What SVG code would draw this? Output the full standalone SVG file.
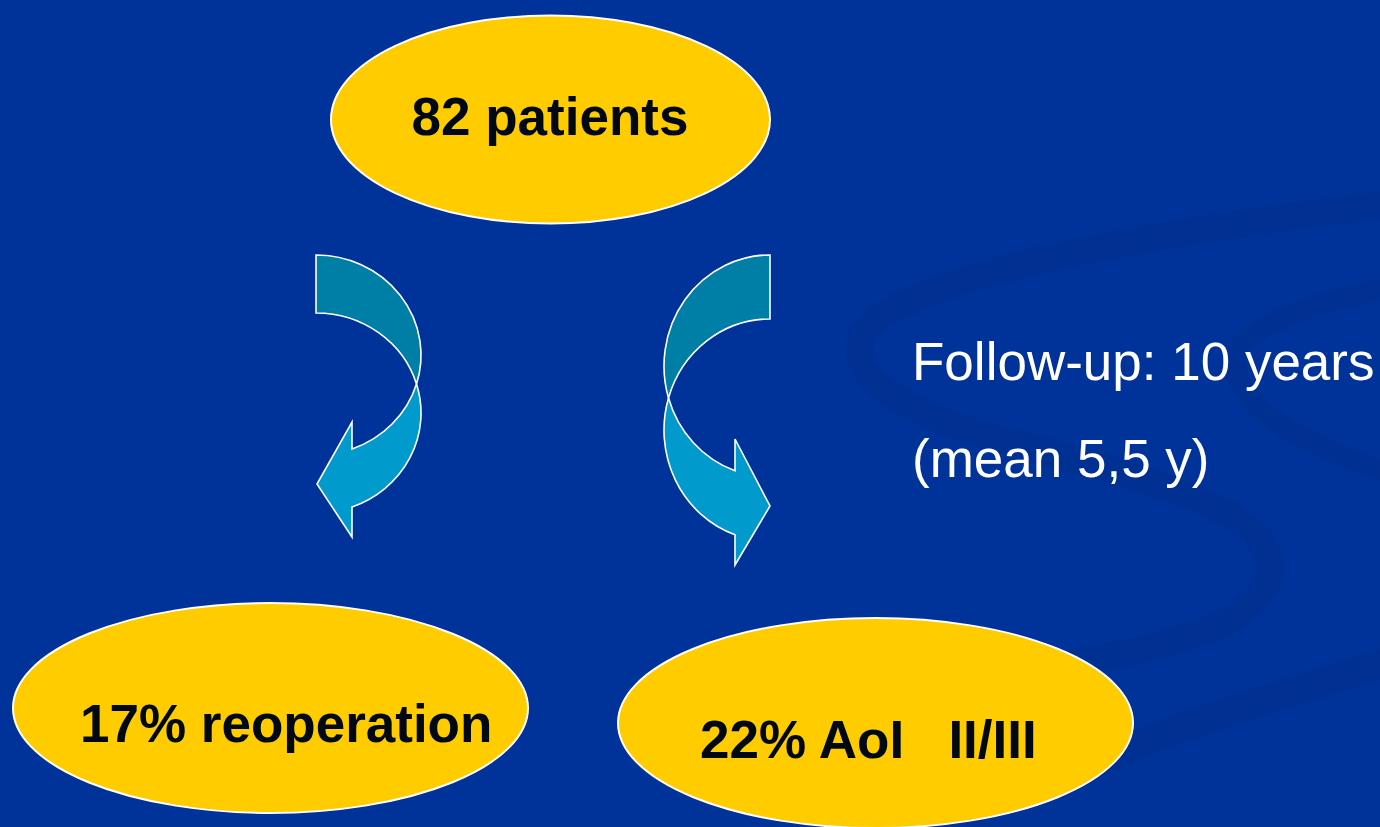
<svg xmlns="http://www.w3.org/2000/svg" width="1380" height="827" viewBox="0 0 1380 827">
  <style>
    .node ellipse { fill: #FFCC00; stroke: #FFFFFF; stroke-width: 2; }
    .lbl { font-family: "Liberation Sans", Arial, sans-serif; font-weight: bold; font-size: 53px; fill: #000814; }
    .note { font-family: "Liberation Sans", Arial, sans-serif; font-size: 53px; fill: #FFFFFF; }
    .back { fill: #007FA6; stroke: #FFFFFF; stroke-width: 1.6; stroke-linejoin: miter; }
    .front { fill: #009ACD; stroke: #FFFFFF; stroke-width: 1.6; stroke-linejoin: miter; }
    .swirl { fill: none; stroke: #003192; stroke-linecap: round; }
  </style>
  <rect x="0" y="0" width="1380" height="827" fill="#003399"/>
  <g id="background-swirl">
    <path class="swirl" stroke-width="28" d="M1380,205 C1180,230 950,265 875,320 C830,360 880,410 1020,445 C1180,485 1280,520 1270,575 C1255,630 1150,650 1060,665"/>
    <path class="swirl" stroke-width="22" d="M1380,290 C1300,305 1240,330 1235,360 C1232,400 1290,440 1380,470"/>
    <path class="swirl" stroke-width="30" d="M1380,665 C1260,700 1160,730 1080,770"/>
  </g>
  <g id="connectors">
    <g id="arrow-left">
      <path class="back" d="M316,255 A105,100 0 0 1 416.5,384 A105,100 0 0 0 316,313 Z"/>
      <path class="front" d="M416.5,384 A105,100 0 0 1 352,507 L352,537 L317,484 L352,422 L352,449 A105,100 0 0 0 416.5,384 Z"/>
    </g>
    <g id="arrow-right">
      <path class="back" d="M770,255 A106,111 0 0 0 668.5,398 A106,111 0 0 1 770,319 Z"/>
      <path class="front" d="M668.5,398 A106,111 0 0 0 735,534.8 L735,565 L770,506 L735,439 L735,470.8 A106,111 0 0 1 668.5,398 Z"/>
    </g>
  </g>
  <g id="node-patients" class="node">
    <ellipse cx="550.5" cy="119.5" rx="219.5" ry="104"/>
    <text class="lbl" x="550" y="135" text-anchor="middle">82 patients</text>
  </g>
  <g id="node-reoperation" class="node">
    <ellipse cx="270.5" cy="708" rx="257.5" ry="105"/>
    <text class="lbl" x="80" y="742">17% reoperation</text>
  </g>
  <g id="node-aoi" class="node">
    <ellipse cx="875.5" cy="723" rx="257.5" ry="105"/>
    <text class="lbl" x="700" y="758" xml:space="preserve" style="white-space:pre">22% AoI   II/III</text>
  </g>
  <g id="followup-note">
    <text class="note" x="912" y="380">Follow-up: 10 years</text>
    <text class="note" x="912" y="477">(mean 5,5 y)</text>
  </g>
</svg>
